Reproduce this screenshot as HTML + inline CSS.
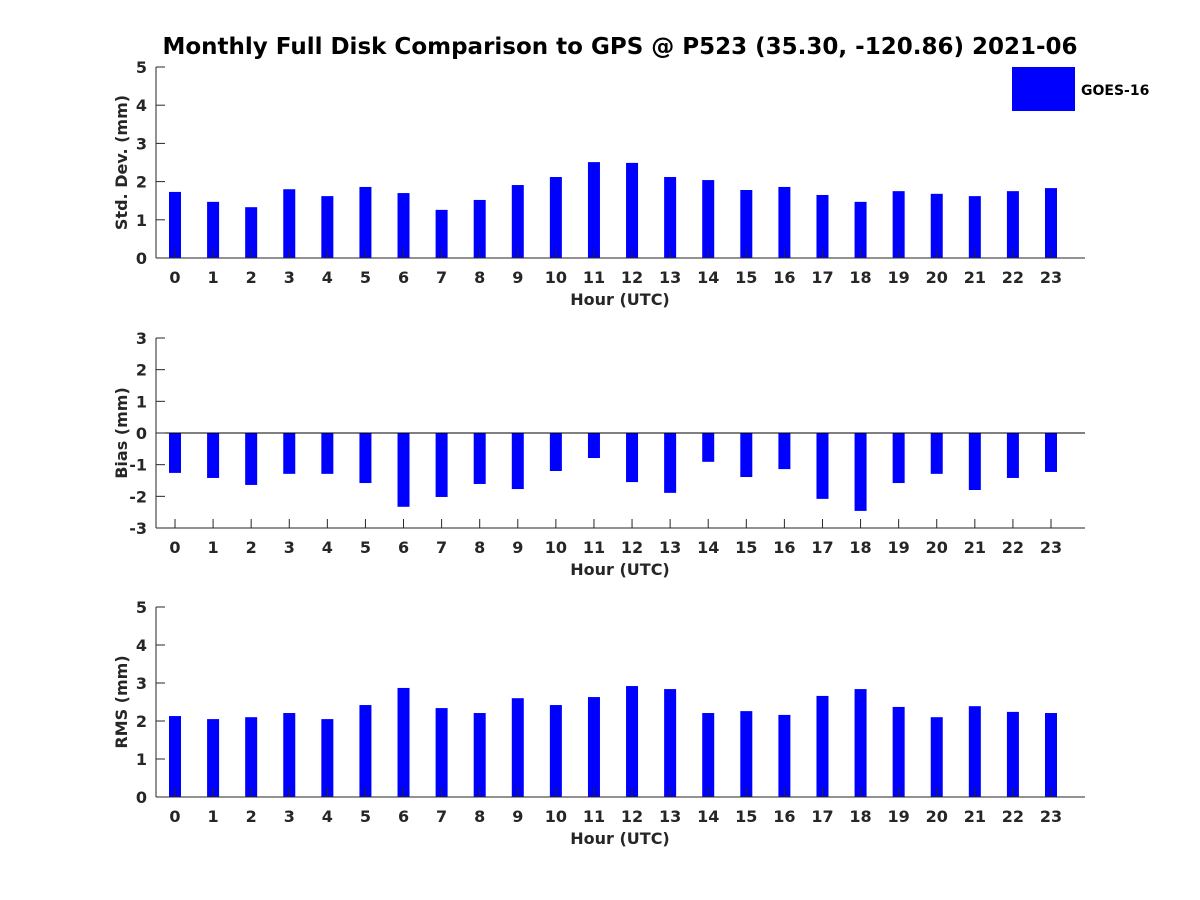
<!DOCTYPE html>
<html><head><meta charset="utf-8"><style>
body{margin:0;background:#fff}
svg{display:block;font-family:"DejaVu Sans","Liberation Sans",sans-serif;font-weight:bold}
</style></head><body>
<svg id="chart" width="1200" height="900" viewBox="0 0 1200 900">
<rect width="1200" height="900" fill="#fff"/>
<text x="620" y="54" text-anchor="middle" font-size="23" fill="#000">Monthly Full Disk Comparison to GPS @ P523 (35.30, -120.86) 2021-06</text>
<rect x="1012" y="67" width="63" height="44" fill="#0000ff"/>
<text x="1081" y="95" font-size="14" fill="#000">GOES-16</text>
</svg>
<script>
const hours = [0,1,2,3,4,5,6,7,8,9,10,11,12,13,14,15,16,17,18,19,20,21,22,23];
const stdDev = [1.73,1.47,1.33,1.8,1.62,1.86,1.7,1.26,1.52,1.91,2.12,2.51,2.49,2.12,2.04,1.78,1.86,1.65,1.47,1.75,1.68,1.62,1.75,1.83];
const bias = [-1.26,-1.42,-1.64,-1.29,-1.29,-1.58,-2.33,-2.02,-1.61,-1.77,-1.2,-0.79,-1.55,-1.89,-0.91,-1.39,-1.14,-2.08,-2.46,-1.58,-1.29,-1.8,-1.42,-1.23];
const rms = [2.13,2.05,2.1,2.21,2.05,2.42,2.87,2.34,2.21,2.6,2.42,2.63,2.92,2.84,2.21,2.26,2.16,2.66,2.84,2.37,2.1,2.39,2.24,2.21];
const stdTicks = [0,1,2,3,4,5];
const biasTicks = [-3,-2,-1,0,1,2,3];
const rmsTicks = [0,1,2,3,4,5];

const svg = document.getElementById('chart');
const NS = 'http://www.w3.org/2000/svg';
function mk(tag, attrs){const e=document.createElementNS(NS,tag);for(const k in attrs)e.setAttribute(k,attrs[k]);svg.appendChild(e);return e;}
const X0=156, X1=1085;
function xs(h){return 175 + h*(1051-175)/23;}

function panel(key, vals, ticks, yTop, yBot, ylabel){
  const lo=ticks[0], hi=ticks[ticks.length-1];
  const ys=v=>yBot-(v-lo)/(hi-lo)*(yBot-yTop);
  const base = ys(Math.max(lo,Math.min(0,hi)));
  vals.forEach((v,i)=>{
    const y=ys(v);
    const r=mk('rect',{x:xs(hours[i])-6,y:Math.min(y,base),width:12,height:Math.abs(base-y),fill:'#0000ff'});
    
    
  });
  if(lo<0){
    const z=mk('line',{x1:X0,x2:X1,y1:base,y2:base,stroke:'#000','stroke-width':1});
    
    
  }
  const ya=mk('line',{x1:X0,x2:X0,y1:yTop,y2:yBot,stroke:'#262626','stroke-width':1});
  
  
  const xa=mk('line',{x1:X0,x2:X1,y1:yBot,y2:yBot,stroke:'#262626','stroke-width':1});
  
  
  ticks.forEach(t=>{
    const y=ys(t);
    mk('line',{x1:X0,x2:X0+9,y1:y,y2:y,stroke:'#262626'});
    const tx=mk('text',{x:X0-9,y:y+6,'text-anchor':'end','font-size':16,fill:'#262626'});
    tx.textContent=t;
    
    
  });
  hours.forEach(h=>{
    const x=xs(h);
    mk('line',{x1:x,x2:x,y1:yBot,y2:yBot-9,stroke:'#262626'});
    const tx=mk('text',{x:x,y:yBot+25,'text-anchor':'middle','font-size':16,fill:'#262626'});
    tx.textContent=h;
    
    
  });
  const xt=mk('text',{x:620,y:yBot+47,'text-anchor':'middle','font-size':16,fill:'#262626'});
  xt.textContent='Hour (UTC)';
  
  
  const cy=(yTop+yBot)/2;
  const yt=mk('text',{x:127,y:cy,'text-anchor':'middle','font-size':16,fill:'#262626',transform:`rotate(-90 127 ${cy})`});
  yt.textContent=ylabel;
  
  
}
panel('std-dev', stdDev, stdTicks, 67, 258, 'Std. Dev. (mm)');
panel('bias', bias, biasTicks, 338, 528, 'Bias (mm)');
panel('rms', rms, rmsTicks, 607, 797, 'RMS (mm)');
</script>
</body></html>
